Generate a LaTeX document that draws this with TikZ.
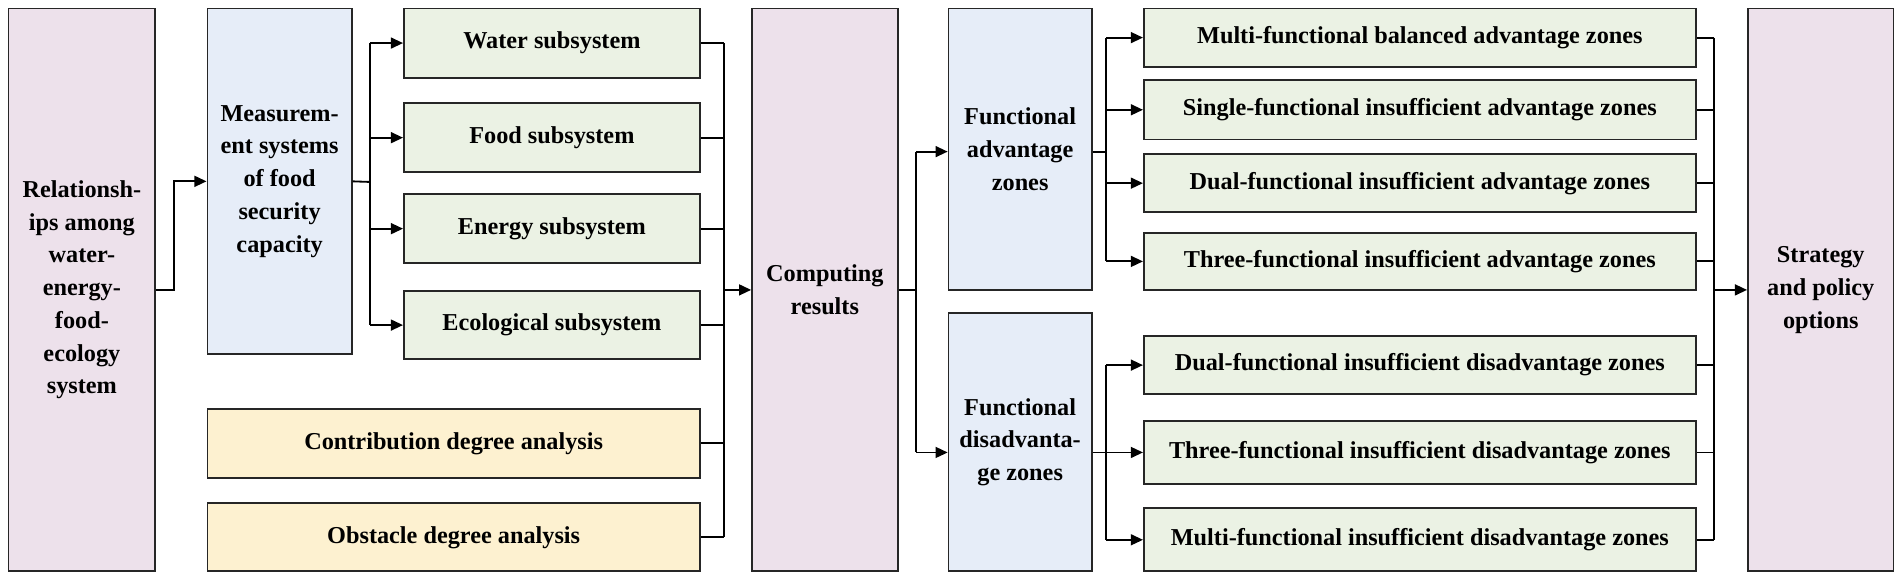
\documentclass[tikz,border=0pt]{standalone}
\usepackage{fontspec}
\setmainfont{Liberation Serif}
\usetikzlibrary{arrows.meta}
\definecolor{pk}{HTML}{EDE1EB}
\definecolor{bl}{HTML}{E6EDF8}
\definecolor{gr}{HTML}{EBF2E4}
\definecolor{ye}{HTML}{FDF1D0}
\begin{document}
\begin{tikzpicture}[x=1pt,y=-1pt,
 bx/.style={draw=black!85,line width=1.5pt,font=\bfseries\fontsize{20}{27}\selectfont,align=center,inner sep=0pt},
 ar/.style={-{Triangle[length=10pt,width=9pt]},line width=1.5pt},
 ln/.style={line width=1.5pt}]
\useasboundingbox (0,0) rectangle (1568,481);
\newcommand{\bxx}[7]{\node[bx,fill=#6,minimum width={#3-#2},minimum height={#5-#4}] (#1) at ({(#2+#3)/2},{(#4+#5)/2}) {#7};}
\bxx{A}{7}{128}{7}{471}{pk}{Relationsh-\\ips among\\water-\\energy-\\food-\\ecology\\system}
\bxx{B}{171}{290}{7}{292}{bl}{Measurem-\\ent systems\\of food\\security\\capacity}
\bxx{w}{333}{577}{7}{64}{gr}{Water subsystem}
\bxx{f}{333}{577}{85}{142}{gr}{Food subsystem}
\bxx{e}{333}{577}{160}{217}{gr}{Energy subsystem}
\bxx{ec}{333}{577}{240}{296}{gr}{Ecological subsystem}
\bxx{c}{171}{577}{337}{394}{ye}{Contribution degree analysis}
\bxx{o}{171}{577}{415}{471}{ye}{Obstacle degree analysis}
\bxx{C}{620}{740}{7}{471}{pk}{Computing\\results}
\bxx{FA}{782}{900}{7}{239}{bl}{Functional\\advantage\\zones}
\bxx{FD}{782}{900}{258}{471}{bl}{Functional\\disadvanta-\\ge zones}
\bxx{r1}{943}{1398}{7}{55}{gr}{Multi-functional balanced advantage zones}
\bxx{r2}{943}{1398}{66}{115}{gr}{Single-functional insufficient advantage zones}
\bxx{r3}{943}{1398}{127}{175}{gr}{Dual-functional insufficient advantage zones}
\bxx{r4}{943}{1398}{192}{239}{gr}{Three-functional insufficient advantage zones}
\bxx{r5}{943}{1398}{277}{325}{gr}{Dual-functional insufficient disadvantage zones}
\bxx{r6}{943}{1398}{347}{399}{gr}{Three-functional insufficient disadvantage zones}
\bxx{r7}{943}{1398}{419}{471}{gr}{Multi-functional insufficient disadvantage zones}
\bxx{S}{1441}{1561}{7}{471}{pk}{Strategy\\and policy\\options}
% A -> B
\draw[ar] (A.east) -- ++(15,0) |- (B.west);
% B -> subsystems
\draw[ln] (B.east) -- (305,150);
\foreach \t in {w,f,e,ec} \draw[ar] (305,0 |- \t.west) -- (\t.west);
\draw[ln] (305,0 |- w.west) -- (305,0 |- ec.west);
% subsystems -> C
\foreach \t in {w,f,e,ec,c,o} \draw[ln] (\t.east) -- (597,0 |- \t.east);
\draw[ln] (597,0 |- w.east) -- (597,0 |- o.east);
\draw[ar] (597,0 |- C.west) -- (C.west);
% C -> FA, FD
\draw[ln] (C.east) -- (755,0 |- C.east);
\draw[ln] (755,125) -- (755,373);
\draw[ar] (755,125) -- (FA.west |- 0,125);
\draw[ar] (755,373) -- (FD.west |- 0,373);
% FA -> r1..r4
\draw[ln] (FA.east |- 0,125) -- (912,125);
\draw[ln] (912,0 |- r1.west) -- (912,0 |- r4.west);
\foreach \t in {r1,r2,r3,r4} \draw[ar] (912,0 |- \t.west) -- (\t.west);
\draw[ln] (FD.east |- 0,373) -- (912,373);
\draw[ln] (912,0 |- r5.west) -- (912,0 |- r7.west);
\foreach \t in {r5,r6,r7} \draw[ar] (912,0 |- \t.west) -- (\t.west);
% r -> S
\foreach \t in {r1,r2,r3,r4,r5,r6,r7} \draw[ln] (\t.east) -- (1413,0 |- \t.east);
\draw[ln] (1413,0 |- r1.east) -- (1413,0 |- r7.east);
\draw[ar] (1413,0 |- S.west) -- (S.west);
\end{tikzpicture}
\end{document}
